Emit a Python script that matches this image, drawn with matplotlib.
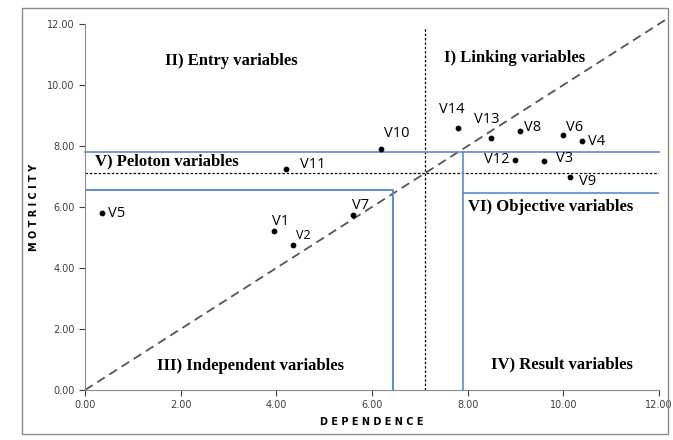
import numpy as np
import matplotlib
matplotlib.use('Agg')
import matplotlib.pyplot as plt
from matplotlib.patches import Rectangle

# variables: dependence (x), motricity (y)
names = ['V1', 'V2', 'V3', 'V4', 'V5', 'V6', 'V7', 'V8', 'V9', 'V10', 'V11', 'V12', 'V13', 'V14']
dependence = [3.95, 4.35, 9.6, 10.4, 0.35, 10.0, 5.6, 9.1, 10.15, 6.2, 4.2, 9.0, 8.5, 7.8]
motricity = [5.2, 4.75, 7.5, 8.15, 5.8, 8.35, 5.75, 8.5, 7.0, 7.9, 7.25, 7.55, 8.25, 8.6]

# label offsets in pixels (dx, dy, ha)
label_off = {
    'V1': (7, 10, 'center'), 'V2': (10, 10, 'center'), 'V3': (12, 3, 'left'),
    'V4': (6, 0, 'left'), 'V5': (6, 0, 'left'), 'V6': (3, 8, 'left'),
    'V7': (8, 9, 'center'), 'V8': (4, 3, 'left'), 'V9': (9, -5, 'left'),
    'V10': (3, 16, 'left'), 'V11': (14, 4, 'left'), 'V12': (-6, 0, 'right'),
    'V13': (-5, 19, 'center'), 'V14': (-6, 18, 'center'),
}

mean_dep = 7.1
mean_mot = 7.1

regions = ['II) Entry variables', 'I) Linking variables', 'V) Peloton variables',
           'VI) Objective variables', 'III) Independent variables', 'IV) Result variables']
region_xy = [(3.05, 10.8), (8.98, 10.9), (0.2, 7.5), (8.0, 6.0), (3.47, 0.8), (9.98, 0.85)]
region_ha = ['center', 'center', 'left', 'left', 'center', 'center']

fig = plt.figure(figsize=(6.73, 4.40), dpi=100)
ax = fig.add_axes([0.1263, 0.1136, 0.8527, 0.8318])
fig.patches.append(Rectangle((0.033, 0.014), 0.96, 0.968, transform=fig.transFigure,
                             fill=False, edgecolor='#8c8c8c', lw=1.0))

blue = '#5b8bd0'
# diagonal
ax.plot([0, 12.2], [0, 12.2], ls=(0, (5, 3)), color='#555555', lw=1.3, clip_on=False)
# mean lines
ax.plot([mean_dep, mean_dep], [0, 11.9], ls=(0, (2, 1.5)), color='black', lw=0.9)
ax.plot([0, 12], [mean_mot, mean_mot], ls=(0, (2, 1.5)), color='black', lw=0.9)
# region boundaries
ax.plot([0, 12], [7.8, 7.8], color=blue, lw=1.2, clip_on=False)
ax.plot([0, 6.45, 6.45], [6.55, 6.55, 0], color=blue, lw=1.4)
ax.plot([7.9, 7.9], [0, 7.8], color=blue, lw=1.2)
ax.plot([7.9, 12], [6.45, 6.45], color=blue, lw=1.2)

ax.scatter(dependence, motricity, s=10, color='black', zorder=5)
for n, x, y in zip(names, dependence, motricity):
    dx, dy, ha = label_off[n]
    fs = 9 if n == 'V2' else 10.5
    ax.annotate(n, (x, y), xytext=(dx, dy), textcoords='offset pixels',
                ha=ha, va='center', fontsize=fs, family='Open Sans')

for t, (x, y), ha in zip(regions, region_xy, region_ha):
    ax.text(x, y, t, ha=ha, va='center', fontsize=12, fontweight='bold',
            family='Liberation Serif')

ax.set_xlim(0, 12)
ax.set_ylim(0, 12)
ticks = np.arange(0, 13, 2)
ax.set_xticks(ticks)
ax.set_yticks(ticks)
ax.set_xticklabels(['%.2f' % t for t in ticks])
ax.set_yticklabels(['%.2f' % t for t in ticks])
ax.tick_params(labelsize=7, colors='#404040', length=4, width=0.8)
for s in ['top', 'right']:
    ax.spines[s].set_visible(False)
for s in ['left', 'bottom']:
    ax.spines[s].set_color('#8c8c8c')

ax.set_xlabel('D E P E N D E N C E', fontsize=7, fontweight='bold', labelpad=5)
ax.set_ylabel('M O T R I C I T Y', fontsize=7, fontweight='bold', labelpad=6)

fig.savefig('out.png', dpi=100)
